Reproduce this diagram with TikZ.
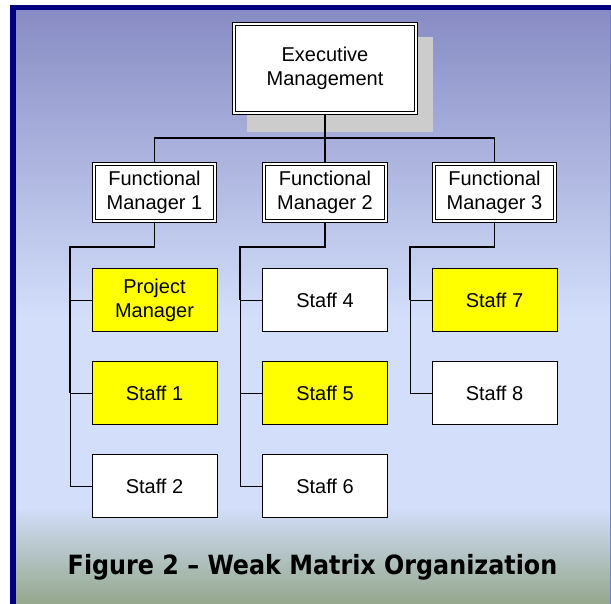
\documentclass[tikz,border=0pt]{standalone}
\usepackage{fontspec}
\setmainfont{Liberation Sans}
\newfontfamily\capfont{DejaVu Sans Condensed}
\definecolor{bgtop}{RGB}{136,140,196}
\definecolor{bgmid}{RGB}{210,222,250}
\definecolor{bgbot}{RGB}{148,167,140}
\definecolor{framenavy}{RGB}{0,0,128}
\definecolor{edgeline}{RGB}{120,125,200}
\definecolor{shadowgray}{RGB}{204,204,204}
\definecolor{hiyellow}{RGB}{255,255,0}
\begin{document}
\begin{tikzpicture}[x=1pt,y=-1pt,
  lbl/.style={font=\fontsize{20}{24}\selectfont, align=center, inner sep=0pt},
  dbox/.style={lbl, draw=black, fill=white, double=white, double distance=2.2pt, line width=0.7pt, minimum width=121.5pt, minimum height=57.5pt},
  sbox/.style={lbl, draw=black, line width=1pt, fill=white, minimum width=125pt, minimum height=63pt},
  ybox/.style={sbox, fill=hiyellow},
  conn/.style={draw=black, line width=1.3pt},
  thinconn/.style={draw=black, line width=0.9pt}]
\useasboundingbox (0,0) rectangle (611,604);
\fill[white] (0,0) rectangle (611,604);
% background
\shade[top color=bgtop, bottom color=bgmid] (15,10) rectangle (611,316);
\fill[bgmid] (15,315) rectangle (611,509);
\shade[top color=bgmid, bottom color=bgbot] (15,508) rectangle (611,604);
% frame
\fill[framenavy] (10,5) rectangle (611,10.5);
\fill[framenavy] (10,5) rectangle (15.5,604);
\fill[edgeline] (609.5,10.5) rectangle (611,604);
% shadow
\fill[shadowgray] (247,37) rectangle (433,132);
% nodes
\node[dbox, minimum width=182.5pt, minimum height=89.5pt] (exec) at (325,68.5) {Executive\\Management};
\node[dbox] (fm1) at (154.5,192.5) {Functional\\Manager 1};
\node[dbox] (fm2) at (325,192.5) {Functional\\Manager 2};
\node[dbox] (fm3) at (494.5,192.5) {Functional\\Manager 3};
\node[ybox] (pm) at (154.5,300.5) {Project\\Manager};
\node[ybox] (s1) at (154.5,393) {Staff 1};
\node[sbox] (s2) at (154.5,486) {Staff 2};
\node[sbox] (s4) at (325,300.5) {Staff 4};
\node[ybox] (s5) at (325,393) {Staff 5};
\node[sbox] (s6) at (325,486) {Staff 6};
\node[ybox] (s7) at (494.5,300.5) {Staff 7};
\node[sbox] (s8) at (494.5,393) {Staff 8};
% connectors
\coordinate (j) at (325,138);
\draw[conn] (exec.south) -- (fm2.north);
\draw[conn] (fm1.north) -- (fm1.north |- j) -- (fm3.north |- j) -- (fm3.north);
\coordinate (b1) at (70,247);
\coordinate (b2) at (240,247);
\coordinate (b3) at (410,247);
\draw[conn] (fm1.south) |- (b1) -- (b1 |- s1.west);
\draw[thinconn] (b1 |- s1.west) -- (b1 |- s2.west) -- (s2.west);
\draw[thinconn] (b1 |- pm.west) -- (pm.west);
\draw[thinconn] (b1 |- s1.west) -- (s1.west);
\draw[conn] (fm2.south) |- (b2) -- (b2 |- s4.west);
\draw[thinconn] (b2 |- s4.west) -- (b2 |- s6.west) -- (s6.west);
\draw[thinconn] (b2 |- s4.west) -- (s4.west);
\draw[thinconn] (b2 |- s5.west) -- (s5.west);
\draw[conn] (fm3.south) |- (b3) -- (b3 |- s7.west);
\draw[thinconn] (b3 |- s7.west) -- (b3 |- s8.west) -- (s8.west);
\draw[thinconn] (b3 |- s7.west) -- (s7.west);
% caption
\node[inner sep=0pt, font=\capfont\bfseries\fontsize{26.5}{30}\selectfont] (cap) at (312.5,567.5) {Figure 2 – Weak Matrix Organization};
\end{tikzpicture}
\end{document}
